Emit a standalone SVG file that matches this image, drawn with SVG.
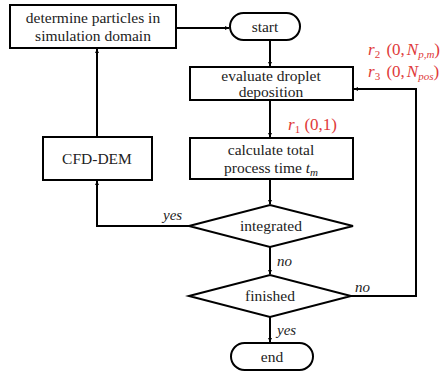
<svg xmlns="http://www.w3.org/2000/svg" width="440" height="372" viewBox="0 0 440 372" font-family="'Liberation Serif', 'DejaVu Serif', serif">
  <defs>
    <marker id="arrow" viewBox="0 0 10 10" refX="10" refY="5" markerWidth="4" markerHeight="4" orient="auto" markerUnits="userSpaceOnUse">
      <path d="M0,0 L10,5 L0,10 z" fill="#000"/>
    </marker>
  </defs>
  <style>
    .shape { fill: #fff; stroke: #000; stroke-width: 2; }
    .edge { fill: none; stroke: #000; stroke-width: 2; }
    text { font-family: 'Liberation Serif', 'DejaVu Serif', serif; }
    .label { font-size: 15.5px; fill: #222; text-anchor: middle; }
    .cond { font-size: 15px; font-style: italic; fill: #222; }
    .rate { font-size: 17px; fill: #e03a3a; }
    .v { font-style: italic; }
  </style>

  <!-- connectors -->
  <g id="connectors">
    <path class="edge" d="M176,28 H229" marker-end="url(#arrow)"/>
    <path class="edge" d="M270,40 V66" marker-end="url(#arrow)"/>
    <path class="edge" d="M270,100 V137" marker-end="url(#arrow)"/>
    <path class="edge" d="M270,179 V204" marker-end="url(#arrow)"/>
    <path class="edge" d="M270,247 V274" marker-end="url(#arrow)"/>
    <path class="edge" d="M270,317 V342" marker-end="url(#arrow)"/>
    <path class="edge" d="M189,226 H97 V181" marker-end="url(#arrow)"/>
    <path class="edge" d="M97,137 V49" marker-end="url(#arrow)"/>
    <path class="edge" d="M351,296 H416 V89 H354" marker-end="url(#arrow)"/>
    <text class="cond" x="163" y="220">yes</text>
    <text class="cond" x="277" y="266">no</text>
    <text class="cond" x="355" y="292">no</text>
    <text class="cond" x="277" y="335">yes</text>
    <text class="rate" x="288" y="130"><tspan class="v">r</tspan><tspan font-size="11" dy="3">1</tspan><tspan dy="-3"> (0,1)</tspan></text>
    <text class="rate" x="368" y="55"><tspan class="v">r</tspan><tspan font-size="11" dy="3">2</tspan><tspan dy="-3" dx="2"> (0,</tspan><tspan class="v" dx="2">N</tspan><tspan class="v" font-size="11" dy="3">p,m</tspan><tspan dy="-3">)</tspan></text>
    <text class="rate" x="368" y="77"><tspan class="v">r</tspan><tspan font-size="11" dy="3">3</tspan><tspan dy="-3" dx="2"> (0,</tspan><tspan class="v" dx="2">N</tspan><tspan class="v" font-size="11" dy="3">pos</tspan><tspan dy="-3">)</tspan></text>
  </g>

  <g id="particles">
    <rect class="shape" x="10" y="5" width="166" height="43"/>
    <text class="label" x="93" y="23">determine particles in</text>
    <text class="label" x="93" y="41">simulation domain</text>
  </g>

  <g id="start">
    <rect class="shape" x="230" y="13" width="70" height="27" rx="13.5"/>
    <text class="label" x="265" y="32">start</text>
  </g>

  <g id="evaluate">
    <rect class="shape" x="190" y="67" width="163" height="33"/>
    <text class="label" x="271" y="81">evaluate droplet</text>
    <text class="label" x="271" y="97">deposition</text>
  </g>

  <g id="calculate">
    <rect class="shape" x="190" y="138" width="163" height="41"/>
    <text class="label" x="271" y="155">calculate total</text>
    <text class="label" x="271" y="173">process time <tspan class="v">t</tspan><tspan class="v" font-size="11" dy="3">m</tspan></text>
  </g>

  <g id="cfd-dem">
    <rect class="shape" x="43" y="137" width="109" height="43"/>
    <text class="label" x="97" y="164">CFD-DEM</text>
  </g>

  <g id="integrated">
    <polygon class="shape" points="189,226 270,205 353,226 270,247"/>
    <text class="label" x="271" y="231">integrated</text>
  </g>

  <g id="finished">
    <polygon class="shape" points="189,296 270,275 351,296 270,317"/>
    <text class="label" x="270" y="301">finished</text>
  </g>

  <g id="end">
    <rect class="shape" x="231" y="343" width="82" height="27" rx="13.5"/>
    <text class="label" x="272" y="362">end</text>
  </g>
</svg>
